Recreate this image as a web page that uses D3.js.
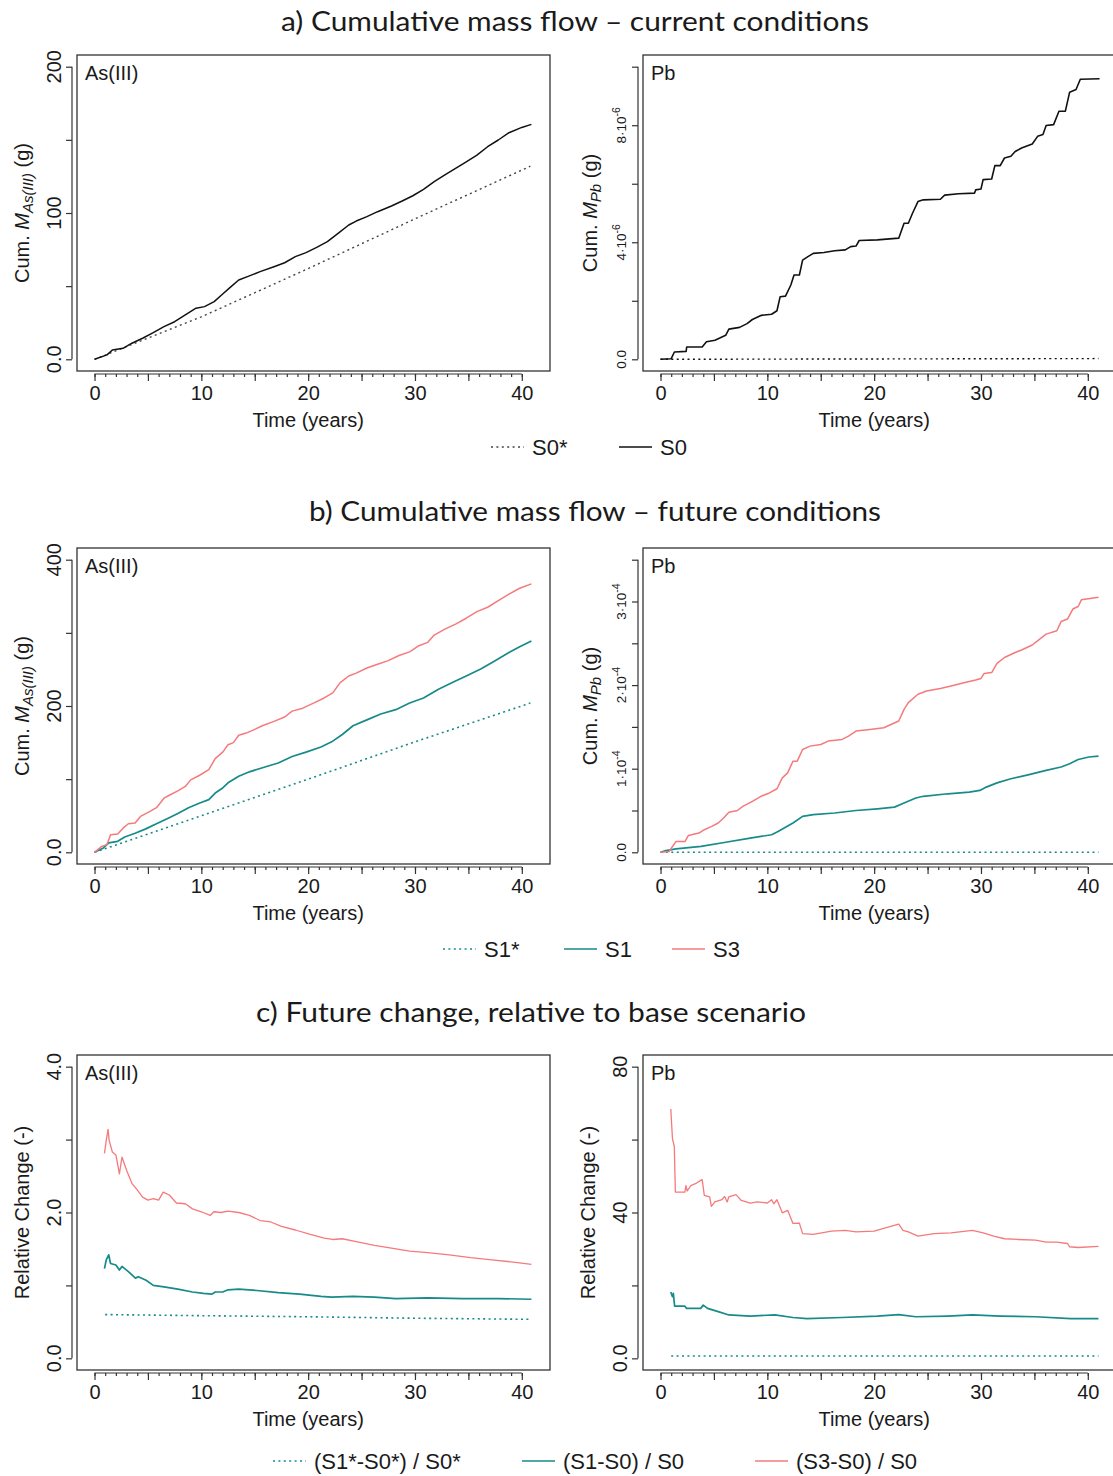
<!DOCTYPE html>
<html>
<head>
<meta charset="utf-8">
<script src="https://cdn.jsdelivr.net/npm/d3@7"></script>
<style>
  body { margin: 0; background: #fff; }
  svg text { font-family: "Liberation Sans", Arial, Helvetica, sans-serif; fill: #1a1a1a; }
  svg text.title { font-family: Lato, "Open Sans", sans-serif; }
</style>
</head>
<body>
<svg id="fig" width="1113" height="1476"></svg>
<script>
// ---- data: [time (years), value] ----

// a) current conditions
var asS0Star = [[0,0],[10,29],[20,62],[30,96],[40.8,132]];
var asS0 = [[0,0],[1.17,3],[1.67,6.4],[2.67,7.5],[3.5,11],[4.5,14.4],[5.5,18.2],[6.5,22.3],[7.5,25.7],
  [8.5,30.3],[9.5,34.9],[10.3,36],[11.2,39.4],[12,44.6],[12.7,49.2],[13.5,54.2],[14.5,57],[15.5,59.9],
  [16.8,63.3],[17.8,66],[18.8,70.2],[19.8,72.9],[20.8,76.5],[21.8,80.4],[22.8,86.1],[23.8,91.8],
  [24.5,94.5],[25.5,97.5],[26.5,100.9],[27.8,104.8],[28.8,108.2],[29.8,111.8],[30.8,116.2],[31.8,121.4],
  [32.8,126],[33.8,130.5],[34.8,135],[35.8,139.6],[36.8,145.3],[37.8,149.9],[38.8,154.9],[40,158.5],[40.9,160.6]];

// Pb values in units of 1e-6 g
var pbS0Star = [[0,0],[20,0.012],[41,0.025]];
var pbS0 = [[0,0],[1,0.02],[1.3,0.25],[2.4,0.27],[2.45,0.42],[3.9,0.42],[4.3,0.6],[5.1,0.65],[6.1,0.82],
  [6.4,1.03],[7.4,1.09],[8.1,1.22],[8.6,1.36],[9.4,1.5],[10.4,1.54],[10.9,1.66],[11.2,2.14],[11.7,2.16],
  [12.2,2.54],[12.5,2.88],[13,2.88],[13.3,3.39],[13.8,3.51],[14.3,3.62],[15.3,3.65],[16.3,3.71],[17.3,3.74],
  [17.8,3.85],[18.3,3.87],[18.6,4.06],[20.3,4.08],[22.3,4.14],[22.8,4.65],[23.2,4.65],[23.6,5.0],[24.1,5.39],
  [24.6,5.45],[26.2,5.47],[26.6,5.61],[27.9,5.66],[29.4,5.68],[29.5,5.79],[30,5.82],[30.2,6.14],[31,6.16],
  [31.3,6.62],[31.8,6.62],[32.2,6.88],[32.8,6.94],[33.2,7.1],[33.8,7.22],[34.8,7.36],[35.3,7.62],[35.8,7.68],
  [36.1,7.99],[36.8,8.02],[37.3,8.48],[37.9,8.48],[38.3,9.13],[38.9,9.22],[39.3,9.57],[41.1,9.59]];

// b) future conditions
var asS1Star = [[0,0],[10,50],[20,100],[30,151],[40.8,204]];
var asS1 = [[0,0],[0.83,6],[1.33,13],[2.17,15],[2.83,21],[3.8,26],[4.8,32],[5.8,39],[6.8,46],[7.8,53],
  [8.8,61],[9.8,67],[10.7,72],[11.3,81],[12,88],[12.5,95],[13.5,104],[14.5,110],[15.8,116],[17.2,122],
  [18.5,131],[19.8,137],[21.2,144],[22.2,151],[23.2,161],[24.2,173],[25.5,181],[26.8,189],[28.2,195],
  [29.5,204],[30.8,211],[32.2,223],[33.5,232],[34.8,241],[36.2,251],[37.5,262],[38.8,273],[39.8,281],[40.9,289]];
var asS3 = [[0,0],[0.67,8],[1.17,10.5],[1.5,24],[2.17,25],[2.67,33],[3.17,39],[3.8,40],[4.3,49],[5.2,56],
  [5.8,61],[6.5,74],[7,78],[7.8,84],[8.5,90],[9,99],[9.8,105],[10.7,113],[11.3,128],[12,137],[12.5,147],
  [13,150],[13.5,160],[14.2,163],[15,168],[15.7,173],[16.8,179],[17.8,185],[18.5,193],[19.5,197],[20.5,204],
  [21.5,211],[22.3,218],[23,232],[23.8,241],[24.5,245],[25.5,252],[26.5,257],[27.5,262],[28.5,269],[29.5,274],
  [30.3,282],[31.2,287],[31.8,297],[32.8,305],[33.8,312],[34.8,320],[35.8,329],[36.8,335],[37.8,344],
  [38.8,353],[39.8,361],[40.9,367]];

// Pb values in units of 1e-5 g
var pbS1Star = [[0,0],[41,0]];
var pbS1 = [[0,0],[0.5,0.2],[1.45,0.4],[3.8,0.7],[6.1,1.2],[8.4,1.7],[10.4,2.1],[11,2.5],[11.7,3],[12.4,3.5],
  [13.3,4.3],[14.3,4.5],[16.3,4.7],[18.3,5],[20.3,5.2],[21.9,5.4],[22.8,5.9],[23.9,6.5],[24.6,6.7],[26.9,7],
  [28.9,7.2],[29.9,7.4],[30.5,7.8],[31.5,8.3],[32.8,8.8],[34.5,9.3],[36.1,9.8],[37.5,10.2],[38.3,10.6],
  [39.1,11.1],[40.1,11.4],[41,11.5]];
var pbS3 = [[0,0],[0.8,0.1],[1.45,1.3],[2.3,1.3],[2.6,2],[3.6,2.3],[4.1,2.7],[4.8,3.1],[5.4,3.5],[5.9,4.1],
  [6.4,4.8],[7.2,5],[7.7,5.5],[8.6,6.1],[9.4,6.7],[10.2,7.1],[10.9,7.6],[11.4,8.9],[11.9,9.5],[12.4,10.9],
  [12.8,10.9],[13.3,12.3],[14,12.7],[15,12.9],[15.7,13.3],[17,13.5],[17.6,13.9],[18.3,14.5],[19.6,14.7],
  [20.9,14.9],[22.3,15.7],[22.8,17.1],[23.2,17.9],[24.1,18.9],[24.9,19.3],[26.2,19.6],[27.2,19.9],[28.5,20.3],
  [29.5,20.6],[30,20.8],[30.3,21.4],[31,21.5],[31.5,22.6],[32.2,23.3],[33.2,23.9],[33.8,24.2],[34.8,24.8],
  [35.5,25.5],[36.1,26.1],[37.1,26.5],[37.5,27.6],[38.1,27.9],[38.6,29.1],[39.1,29.4],[39.4,30.2],[41,30.5]];

// c) relative change
var asRel1Star = [[1,0.6],[10,0.585],[20,0.57],[30,0.55],[40.8,0.535]];
var asRel1 = [[0.93,1.23],[1.1,1.35],[1.33,1.42],[1.5,1.3],[2,1.28],[2.33,1.21],[2.57,1.26],[3.17,1.19],
  [3.83,1.1],[4.1,1.12],[4.83,1.07],[5.5,1],[6.5,0.98],[7.8,0.95],[9.17,0.91],[10.2,0.89],[11,0.88],
  [11.3,0.91],[12,0.91],[12.5,0.94],[13.5,0.95],[15.2,0.93],[17.2,0.9],[19.2,0.88],[21.2,0.85],[22.2,0.84],
  [24.2,0.85],[26.2,0.84],[28.2,0.82],[31.2,0.83],[34.5,0.82],[37.8,0.82],[40.9,0.81]];
var asRel3 = [[0.93,2.81],[1.1,2.99],[1.27,3.14],[1.37,2.99],[1.67,2.83],[2,2.79],[2.33,2.53],[2.57,2.76],
  [3,2.58],[3.5,2.4],[4,2.31],[4.5,2.21],[5,2.17],[5.5,2.19],[6,2.17],[6.43,2.28],[7,2.24],[7.67,2.13],
  [8.5,2.12],[9.17,2.05],[10,2.01],[10.83,1.96],[11.17,2.01],[11.83,2],[12.5,2.02],[13.5,2],[14.5,1.96],
  [15.5,1.89],[16.5,1.87],[17.5,1.81],[18.8,1.76],[20.2,1.7],[21.5,1.65],[22.3,1.63],[23.2,1.64],[24.5,1.6],
  [26.2,1.55],[27.8,1.51],[29.5,1.47],[31.2,1.45],[33.2,1.42],[35.2,1.38],[37.2,1.35],[39.2,1.32],[40.9,1.29]];

var pbRel1Star = [[1,0.64],[41,0.62]];
var pbRel1 = [[0.96,18.2],[1.12,16.9],[1.2,17.8],[1.32,14.3],[2.28,14.3],[2.44,13.7],[3.76,13.7],[4,14.6],
  [4.4,13.7],[5.4,12.8],[6.4,11.9],[8.4,11.6],[10.7,11.9],[12.4,11.2],[13.7,10.9],[17,11.2],[20.3,11.6],
  [22.3,12],[23.9,11.4],[26.9,11.6],[29.2,11.9],[31.8,11.6],[35.1,11.4],[38.4,10.9],[41,10.9]];
var pbRel3 = [[0.96,68.4],[1.12,60.2],[1.29,58.1],[1.39,45.6],[2.28,45.6],[2.38,47.4],[2.5,45.9],[2.84,47.4],
  [3.27,47.9],[3.76,48.8],[3.9,49],[4.1,44.7],[4.6,44.3],[4.76,41.7],[5.09,42.9],[5.75,43.5],[6,44.4],
  [6.24,42.9],[6.4,44.3],[7.07,44.9],[7.56,43.3],[8.4,42.6],[9.05,42.9],[10,42.6],[10.4,43.5],[10.6,42.4],
  [10.9,43.5],[11.4,39.9],[11.9,40.6],[12.4,37],[13,37.1],[13.3,34.2],[14.3,34],[16,34.9],[17.3,35.1],
  [18.3,34.7],[20,34.9],[21.3,36],[22.3,36.8],[22.7,35.1],[23.2,34.7],[24.1,33.5],[25.6,34.2],[27.2,34.4],
  [29.2,35.1],[30.2,34.4],[31.2,33.5],[32.2,32.8],[33.5,32.6],[35.1,32.4],[36.1,31.9],[37.1,31.9],[38.1,31.5],
  [38.3,30.6],[39.1,30.4],[41,30.7]];

// axis ticks and labels
var xMajor = [0, 5, 10, 15, 20, 25, 30, 35, 40];
var xLabeled = [0, 10, 20, 30, 40];
var asTicksA = [0, 50, 100, 150, 200],        asLabelsA = {0: "0.0", 100: "100", 200: "200"};
var pbTicksA = [0, 2, 4, 6, 8, 10],           pbLabelsA = {0: "0.0", 4: "4\u00b710^-6", 8: "8\u00b710^-6"};
var asTicksB = [0, 100, 200, 300, 400],       asLabelsB = {0: "0.0", 200: "200", 400: "400"};
var pbTicksB = [0, 5, 10, 15, 20, 25, 30, 35], pbLabelsB = {0: "0.0", 10: "1\u00b710^-4", 20: "2\u00b710^-4", 30: "3\u00b710^-4"};
var relTicksAs = [0, 1, 2, 3, 4],             relLabelsAs = {0: "0.0", 2: "2.0", 4: "4.0"};
var relTicksPb = [0, 20, 40, 60, 80],         relLabelsPb = {0: "0.0", 40: "40", 80: "80"};

var BLACK = "#111", GREY = "#444", TEAL = "#178a8a", PINK = "#f47a7c";

var svg = d3.select("#fig");
var boxW = 473;
var xDomain = [-1.64, 42.64];

function tickLabel(sel, txt) {
  var parts = txt.split("^");
  sel.text(parts[0]);
  if (parts.length > 1) {
    sel.append("tspan").attr("dy", -6).style("font-size", "10.5px").text(parts[1]);
  }
}

function drawPanel(p) {
  var g = svg.append("g");
  var x = d3.scaleLinear().domain(xDomain).range([p.left, p.left + boxW]);
  var lo = p.yTicks[0], hi = p.yTicks[p.yTicks.length - 1], pad = (hi - lo) * 0.04;
  var y = d3.scaleLinear().domain([lo - pad, hi + pad]).range([p.bottom, p.top]);

  // series
  var line = d3.line().x(function(d) { return x(d[0]); }).y(function(d) { return y(d[1]); });
  p.series.forEach(function(s) {
    g.append("path").datum(s.data)
      .attr("d", line)
      .attr("fill", "none")
      .attr("stroke", s.color)
      .attr("stroke-width", s.width || 1.5)
      .attr("stroke-linejoin", "round")
      .attr("stroke-dasharray", s.dotted ? "2,3.4" : null);
  });

  // frame
  g.append("rect")
    .attr("x", p.left).attr("y", p.top)
    .attr("width", boxW).attr("height", p.bottom - p.top)
    .attr("fill", "none").attr("stroke", "#333").attr("stroke-width", 1.3);

  // x axis: minor yearly ticks + major ticks every 5 years
  var xAxisY = p.bottom + 3;
  var gx = g.append("g").attr("transform", "translate(0," + xAxisY + ")");
  gx.call(d3.axisBottom(x).tickValues(d3.range(0, 41)).tickSize(3).tickFormat(""));
  gx.append("g").call(d3.axisBottom(x).tickValues(xMajor).tickSize(7).tickPadding(5)
    .tickFormat(function(d) { return xLabeled.indexOf(d) >= 0 ? d : ""; }));
  gx.selectAll(".domain").remove();
  gx.append("line").attr("x1", x(0)).attr("x2", x(40)).attr("stroke", "#333").attr("stroke-width", 1.2);
  gx.selectAll(".tick line").attr("stroke", "#333").attr("stroke-width", 1.2);
  gx.selectAll(".tick text").style("font-size", "20px").attr("fill", "#1a1a1a")
    .style("font-family", "'Liberation Sans', Arial, sans-serif");

  g.append("text")
    .attr("x", x(20)).attr("y", p.bottom + 49)
    .attr("text-anchor", "middle").attr("dominant-baseline", "central")
    .style("font-size", "20px").text("Time (years)");

  // y axis
  var axX = p.left - 5;
  var gy = g.append("g").attr("transform", "translate(" + axX + ",0)");
  gy.call(d3.axisLeft(y).tickValues(p.yTicks).tickSize(6).tickFormat(""));
  gy.selectAll(".domain").remove();
  gy.append("line").attr("y1", y(lo)).attr("y2", y(hi)).attr("stroke", "#333").attr("stroke-width", 1.2);
  gy.selectAll(".tick line").attr("stroke", "#333").attr("stroke-width", 1.2);

  Object.keys(p.yLabels).forEach(function(k) {
    var v = +k, lx = p.left - (p.small ? 21 : 23), ly = y(v);
    var t = g.append("text")
      .attr("x", lx).attr("y", ly)
      .attr("transform", "rotate(-90," + lx + "," + ly + ")")
      .attr("text-anchor", "middle").attr("dominant-baseline", "central")
      .style("font-size", p.small ? "13.5px" : "20px");
    tickLabel(t, p.yLabels[k]);
  });

  // y title
  var tx = p.left - (p.small ? 53 : 55), ty = (p.top + p.bottom) / 2;
  var yt = g.append("text")
    .attr("x", tx).attr("y", ty)
    .attr("transform", "rotate(-90," + tx + "," + ty + ")")
    .attr("text-anchor", "middle").attr("dominant-baseline", "central")
    .style("font-size", "20px");
  if (p.yTitle.sub) {
    yt.append("tspan").text("Cum. ");
    yt.append("tspan").style("font-style", "italic").text("M");
    yt.append("tspan").style("font-style", "italic").style("font-size", "15px").attr("dy", 5).text(p.yTitle.sub);
    yt.append("tspan").attr("dy", -5).text(" (g)");
  } else {
    yt.text(p.yTitle.text);
  }

  // panel tag
  g.append("text")
    .attr("x", p.left + 8).attr("y", p.top + 18)
    .attr("dominant-baseline", "central")
    .style("font-size", "20px").text(p.tag);
}

var LEFT = 77, RIGHT = 643;
var rows = {
  a: { top: 55, bottom: 371 },
  b: { top: 548, bottom: 864 },
  c: { top: 1055, bottom: 1370 }
};

drawPanel({ left: LEFT, top: rows.a.top, bottom: rows.a.bottom, tag: "As(III)",
  yTicks: asTicksA, yLabels: asLabelsA, yTitle: { sub: "As(III)" },
  series: [ { data: asS0Star, color: GREY, dotted: true, width: 1.4 },
            { data: asS0, color: BLACK, width: 1.5 } ] });

drawPanel({ left: RIGHT, top: rows.a.top, bottom: rows.a.bottom, tag: "Pb", small: true,
  yTicks: pbTicksA, yLabels: pbLabelsA, yTitle: { sub: "Pb" },
  series: [ { data: pbS0Star, color: BLACK, dotted: true, width: 1.4 },
            { data: pbS0, color: BLACK, width: 1.6 } ] });

drawPanel({ left: LEFT, top: rows.b.top, bottom: rows.b.bottom, tag: "As(III)",
  yTicks: asTicksB, yLabels: asLabelsB, yTitle: { sub: "As(III)" },
  series: [ { data: asS1Star, color: TEAL, dotted: true, width: 1.6 },
            { data: asS1, color: TEAL, width: 1.7 },
            { data: asS3, color: PINK, width: 1.5 } ] });

drawPanel({ left: RIGHT, top: rows.b.top, bottom: rows.b.bottom, tag: "Pb", small: true,
  yTicks: pbTicksB, yLabels: pbLabelsB, yTitle: { sub: "Pb" },
  series: [ { data: pbS1Star, color: TEAL, dotted: true, width: 1.6 },
            { data: pbS1, color: TEAL, width: 1.7 },
            { data: pbS3, color: PINK, width: 1.5 } ] });

drawPanel({ left: LEFT, top: rows.c.top, bottom: rows.c.bottom, tag: "As(III)",
  yTicks: relTicksAs, yLabels: relLabelsAs, yTitle: { text: "Relative Change (-)" },
  series: [ { data: asRel1Star, color: TEAL, dotted: true, width: 1.6 },
            { data: asRel1, color: TEAL, width: 1.7 },
            { data: asRel3, color: PINK, width: 1.3 } ] });

drawPanel({ left: RIGHT, top: rows.c.top, bottom: rows.c.bottom, tag: "Pb",
  yTicks: relTicksPb, yLabels: relLabelsPb, yTitle: { text: "Relative Change (-)" },
  series: [ { data: pbRel1Star, color: TEAL, dotted: true, width: 1.6 },
            { data: pbRel1, color: TEAL, width: 1.7 },
            { data: pbRel3, color: PINK, width: 1.3 } ] });

// section titles
var titles = [
  { text: "a) Cumulative mass flow \u2013 current conditions", x: 281, y: 31, w: 588 },
  { text: "b) Cumulative mass flow \u2013 future conditions", x: 309, y: 521, w: 572 },
  { text: "c) Future change, relative to base scenario", x: 256, y: 1022, w: 550 }
];
titles.forEach(function(t) {
  svg.append("text").attr("class", "title")
    .attr("x", t.x).attr("y", t.y)
    .attr("textLength", t.w).attr("lengthAdjust", "spacingAndGlyphs")
    .style("font-size", "26px").text(t.text);
});

// legends
var legends = [
  { y: 447, items: [ { x: 491, label: "S0*", color: GREY, dotted: true },
                     { x: 619, label: "S0", color: BLACK } ] },
  { y: 949, items: [ { x: 443, label: "S1*", color: TEAL, dotted: true },
                     { x: 564, label: "S1", color: TEAL },
                     { x: 672, label: "S3", color: PINK } ] },
  { y: 1461, items: [ { x: 273, label: "(S1*-S0*) / S0*", color: TEAL, dotted: true },
                      { x: 522, label: "(S1-S0) / S0", color: TEAL },
                      { x: 755, label: "(S3-S0) / S0", color: PINK } ] }
];
legends.forEach(function(l) {
  l.items.forEach(function(it) {
    svg.append("line")
      .attr("x1", it.x).attr("x2", it.x + 33).attr("y1", l.y).attr("y2", l.y)
      .attr("stroke", it.color).attr("stroke-width", 1.6)
      .attr("stroke-dasharray", it.dotted ? "2,3.4" : null);
    svg.append("text")
      .attr("x", it.x + 41).attr("y", l.y)
      .attr("dominant-baseline", "central")
      .style("font-size", "22px").text(it.label);
  });
});
</script>
</body>
</html>
